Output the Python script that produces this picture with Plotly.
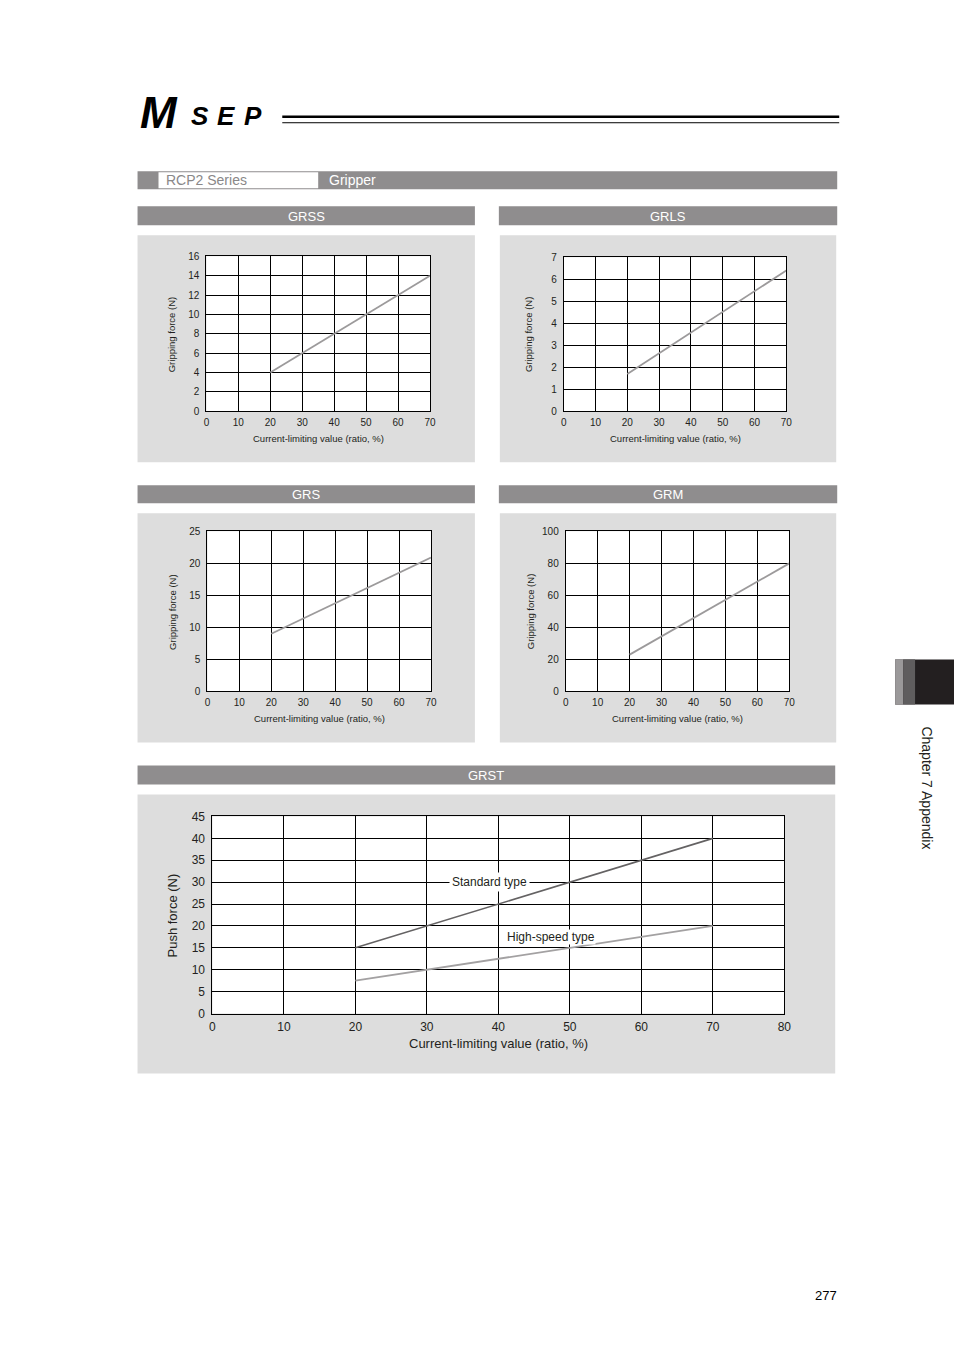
import plotly.graph_objects as go

W, H = 954, 1350
FONT = "Liberation Sans, Arial, sans-serif"
TXT = "#231f20"
BAR_GRAY = "#8f8d8e"
PANEL_GRAY = "#dddddd"

# ---- data ----
current_pct = [20, 70]
grss_force = [4, 14]
grls_force = [1.7, 6.4]
grs_force = [9, 20.9]
grm_force = [23, 80]

grst_current = [20, 30, 40, 50, 60, 70]
grst_standard = [15, 20, 25, 30, 35, 40]
grst_highspeed = [7.5, 10, 12.5, 15, 17.5, 20]

# the photographed page comes out ~1% smaller and slightly shifted; undo that
SX, OX = 0.9914, 2.2
SY, OY = 0.9893, 6.8


def px(x):
    return ((x - OX) / SX) / W


def py(y):
    return 1 - ((y - OY) / SY) / H


def rect(x0, y0, x1, y1, color):
    return dict(type="rect", xref="paper", yref="paper", x0=px(x0), x1=px(x1),
                y0=py(y1), y1=py(y0), fillcolor=color, line=dict(width=0), layer="below")


def hline(x0, x1, y, width):
    return dict(type="line", xref="paper", yref="paper", x0=px(x0), x1=px(x1),
                y0=py(y), y1=py(y), line=dict(color="#000000", width=width))


def note(text, x, y, size, color=TXT, xanchor="center", yanchor="middle", angle=0, **kw):
    return dict(text=text, xref="paper", yref="paper", x=px(x), y=py(y), showarrow=False,
                xanchor=xanchor, yanchor=yanchor, textangle=angle,
                font=dict(family=FONT, size=size, color=color), **kw)


# chart boxes: header bar, panel, plot area (pixels)
charts = [
    dict(name="GRSS", head=(137, 206, 475, 225), panel=(137, 235, 475, 462),
         plot=(206, 256, 430, 411), y=grss_force, ymax=16, dy=2, ytitle="Gripping force (N)"),
    dict(name="GRLS", head=(499, 206, 838, 225), panel=(500, 235, 837, 462),
         plot=(564, 257, 787, 411), y=grls_force, ymax=7, dy=1, ytitle="Gripping force (N)"),
    dict(name="GRS", head=(137, 485, 475, 503), panel=(137, 513, 475, 742),
         plot=(207, 531, 431, 691), y=grs_force, ymax=25, dy=5, ytitle="Gripping force (N)"),
    dict(name="GRM", head=(499, 485, 838, 503), panel=(500, 513, 837, 742),
         plot=(566, 531, 790, 691), y=grm_force, ymax=100, dy=20, ytitle="Gripping force (N)"),
]

fig = go.Figure()
shapes = []
annotations = []
layout_axes = {}

# page decoration: logo rules, series bar, tab
shapes.append(hline(282, 840, 116.5, 2.5))
shapes.append(hline(282, 840, 122.5, 1))
annotations.append(note("<b><i>M</i></b>", 137, 112, 44, color="#000000", xanchor="left"))
for letter, lx in zip(["S", "E", "P"], [189, 215, 242]):
    annotations.append(note("<b><i>" + letter + "</i></b>", lx, 116, 26, color="#000000", xanchor="left"))

shapes.append(rect(137, 171, 838, 189, BAR_GRAY))
shapes.append(rect(158, 172, 318, 188, "#ffffff"))
annotations.append(note("RCP2 Series", 164, 180, 14, color="#8a8889", xanchor="left"))
annotations.append(note("Gripper", 327, 180, 14, color="#ffffff", xanchor="left"))

shapes.append(rect(896, 659, 960, 704, TXT))
shapes.append(rect(896, 659, 904, 704, "#9b999a"))
shapes.append(rect(904, 659, 916, 704, "#5f5d5e"))
annotations.append(note("Chapter 7 Appendix", 927, 787, 14, angle=90))
annotations.append(note("277", 827, 1295, 13, color="#000000"))


def add_chart(i, head, panel, plot, name, xmax, ymax, dy, ytitle, tick_size, title_size,
              xtitle_y, ytitle_x):
    shapes.append(rect(*head, BAR_GRAY))
    annotations.append(note(name, (head[0] + head[2]) / 2, (head[1] + head[3]) / 2 + 0.5, 13,
                            color="#ffffff"))
    shapes.append(rect(*panel, PANEL_GRAY))
    shapes.append(rect(*plot, "#ffffff"))
    sfx = "" if i == 0 else str(i + 1)
    common = dict(showgrid=True, gridcolor="#000000", gridwidth=1, showline=True,
                  linecolor="#000000", linewidth=1, mirror=True, zeroline=False,
                  fixedrange=True, ticks="", tickfont=dict(family=FONT, size=tick_size, color=TXT))
    layout_axes["xaxis" + sfx] = dict(common, domain=[px(plot[0]), px(plot[2])], range=[0, xmax],
                                      tick0=0, dtick=10, anchor="y" + sfx, ticklabelstandoff=2)
    layout_axes["yaxis" + sfx] = dict(common, domain=[py(plot[3]), py(plot[1])], range=[0, ymax],
                                      tick0=0, dtick=dy, anchor="x" + sfx, ticklabelstandoff=4)
    annotations.append(note("Current-limiting value (ratio, %)", (plot[0] + plot[2]) / 2,
                            xtitle_y, title_size))
    annotations.append(note(ytitle, ytitle_x, (plot[1] + plot[3]) / 2, title_size, angle=-90))
    return "x" + sfx, "y" + sfx


for i, c in enumerate(charts):
    xr, yr = add_chart(i, c["head"], c["panel"], c["plot"], c["name"], 70, c["ymax"], c["dy"],
                       c["ytitle"], 10, 9.5, c["plot"][3] + 27, c["plot"][0] - 35)
    fig.add_trace(go.Scatter(x=current_pct, y=c["y"], mode="lines", xaxis=xr, yaxis=yr,
                             line=dict(color="#9c9a9b", width=1.8), hoverinfo="skip"))

# GRST (large chart)
xr, yr = add_chart(4, (137, 765, 836, 784), (137, 794, 836, 1073), (212, 816, 785, 1013),
                   "GRST", 80, 45, 5, "Push force (N)", 12, 13, 1043, 172)
fig.add_trace(go.Scatter(x=grst_current, y=grst_standard, mode="lines", xaxis=xr, yaxis=yr,
                         line=dict(color="#646263", width=1.6), hoverinfo="skip"))
fig.add_trace(go.Scatter(x=grst_current, y=grst_highspeed, mode="lines", xaxis=xr, yaxis=yr,
                         line=dict(color="#a3a1a2", width=1.8), hoverinfo="skip"))
annotations.append(dict(text="Standard type", xref=xr, yref=yr, x=38.8, y=30, showarrow=False,
                        bgcolor="#ffffff", borderpad=2,
                        font=dict(family=FONT, size=12, color=TXT)))
annotations.append(dict(text="High-speed type", xref=xr, yref=yr, x=47.3, y=17.4, showarrow=False,
                        bgcolor="#ffffff", borderpad=0,
                        font=dict(family=FONT, size=12, color=TXT)))

fig.update_layout(width=W, height=H, margin=dict(l=0, r=0, t=0, b=0),
                  paper_bgcolor="#ffffff", plot_bgcolor="rgba(0,0,0,0)",
                  showlegend=False, shapes=shapes, annotations=annotations,
                  font=dict(family=FONT, color=TXT), **layout_axes)

fig.write_html("out.html", config={"displayModeBar": False},
               post_script="document.body.style.margin='0';document.body.style.overflow='hidden';")
